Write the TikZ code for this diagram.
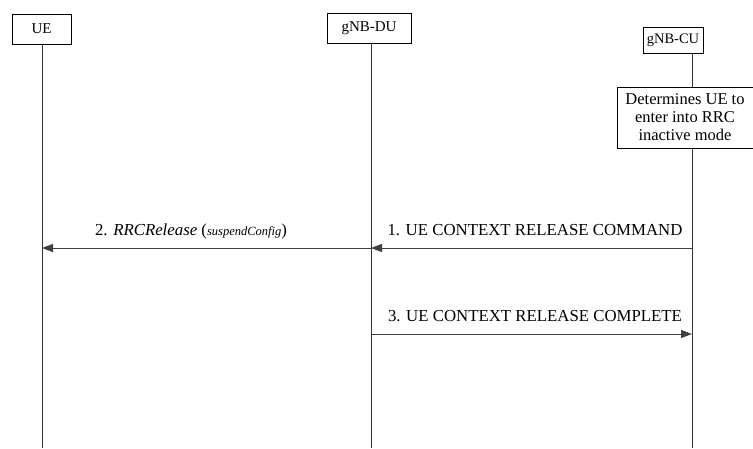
\documentclass[tikz,border=0pt]{standalone}
\usepackage{fontspec}
\setmainfont{Liberation Serif}
\usetikzlibrary{arrows.meta}
\begin{document}
\begin{tikzpicture}[x=1pt,y=-1pt,
  ent/.style={draw,line width=1pt,font=\fontsize{15}{17}\selectfont,inner sep=0pt,minimum height=30pt},
  life/.style={line width=1pt,draw=black!80},
  msg/.style={line width=1pt,draw=black!75,-{Triangle[length=11pt,width=8pt]}},
  lbl/.style={font=\fontsize{16.8}{19}\selectfont,anchor=base}]
\useasboundingbox (0,0) rectangle (753,448);
\node[ent,minimum width=59pt] (ue) at (41.5,29) {UE};
\node[ent,minimum width=84pt] (du) at (369,28.5) {gNB-DU};
\node[ent,minimum width=60pt,minimum height=26pt,font=\fontsize{14.5}{17}\selectfont] (cu) at (673,40) {gNB-CU};
\node[ent,minimum width=136pt,minimum height=61pt,align=center,font=\fontsize{16.5}{18}\selectfont] (det) at (685,117.5) {Determines UE to\\enter into RRC\\inactive mode};
\coordinate (uebot) at (42,448);
\coordinate (dubot) at (371,448);
\coordinate (cubot) at (692,448);
\draw[life] (42,44) -- (uebot);
\draw[life] (371,43) -- (dubot);
\draw[life] (692,53) -- (692,87);
\draw[life] (692,148) -- (cubot);
\coordinate (m1s) at (692,248);
\coordinate (m1e) at (371,248);
\coordinate (m2e) at (42,248);
\coordinate (m3s) at (371,334);
\coordinate (m3e) at (692,334);
\draw[msg] (m1s) -- (m1e);
\draw[msg] (m1e) -- (m2e);
\draw[msg] (m3s) -- (m3e);
\node[lbl] (l1) at (535,235) {1. UE CONTEXT RELEASE COMMAND};
\node[lbl] (l2) at (191,235) {2. \textit{RRCRelease} ({\fontsize{12.5}{14}\selectfont\textit{suspendConfig}})};
\node[lbl] (l3) at (535,321) {3. UE CONTEXT RELEASE COMPLETE};
\end{tikzpicture}
\end{document}
